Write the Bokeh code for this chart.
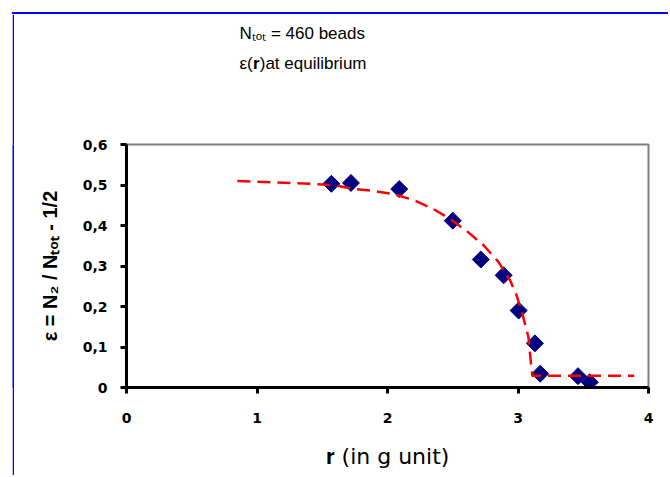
import math
from bokeh.plotting import figure
from bokeh.models import (Range1d, FixedTicker, CustomJSTickFormatter, ColumnDataSource,
                          Title, Plot, Spacer)
from bokeh.layouts import column, row
from bokeh.embed import file_html
from bokeh.resources import INLINE

# data
r_obs = [1.57, 1.72, 2.09, 2.50, 2.715, 2.89, 3.005, 3.13, 3.17, 3.46, 3.55]
eps_obs = [0.503, 0.505, 0.490, 0.412, 0.316, 0.277, 0.190, 0.109, 0.034, 0.028, 0.013]

r_fit = [0.85, 1.36, 1.60, 1.75, 1.90, 2.04, 2.20, 2.35, 2.49, 2.62, 2.74, 2.85, 2.94, 2.99, 3.04, 3.08, 3.10, 3.11, 3.89]
eps_fit = [0.510, 0.504, 0.499, 0.490, 0.485, 0.478, 0.463, 0.441, 0.414, 0.383, 0.350, 0.310, 0.264, 0.227, 0.174, 0.124, 0.058, 0.029, 0.029]

x_ticks = [0, 1, 2, 3, 4]
y_ticks = [0, 0.1, 0.2, 0.3, 0.4, 0.5, 0.6]

title_1 = "Nₜₒₜ = 460 beads"
title_2 = "ε(𝐫)at equilibrium"
x_label = "𝐫 (in g unit)"
y_label = "ε = N₂ / Nₜₒₜ - 1/2"

W, H = 652, 460
FL, FT, FR, FB = 112, 130, 18, 87

p = figure(width=W, height=H, output_backend="svg", toolbar_location=None, title=None,
           x_range=Range1d(0, 4), y_range=Range1d(0, 0.6),
           min_border_left=FL, min_border_top=FT, min_border_right=FR, min_border_bottom=FB)
p.background_fill_color = "white"
p.border_fill_color = "white"
p.xgrid.visible = False
p.ygrid.visible = False
p.outline_line_color = "#808080"
p.outline_line_width = 2

for ax in (p.xaxis[0], p.yaxis[0]):
    ax.axis_line_color = "black"
    ax.axis_line_width = 3
    ax.major_tick_line_color = "black"
    ax.major_tick_line_width = 3
    ax.major_tick_out = 6
    ax.major_tick_in = 0
    ax.minor_tick_line_color = None
    ax.major_label_text_font = "DejaVu Sans"
    ax.major_label_text_font_style = "bold"
    ax.major_label_text_font_size = "14px"
    ax.major_label_text_color = "black"
    ax.axis_label_text_color = "black"

p.xaxis.ticker = FixedTicker(ticks=x_ticks)
p.yaxis.ticker = FixedTicker(ticks=y_ticks)
p.xaxis.major_label_standoff = 19
p.yaxis.major_label_standoff = 13
p.yaxis.formatter = CustomJSTickFormatter(code="return tick == 0 ? '0' : tick.toFixed(1).replace('.', ',');")

p.yaxis.axis_label = y_label
p.yaxis.axis_label_text_font = "Liberation Sans"
p.yaxis.axis_label_text_font_style = "bold"
p.yaxis.axis_label_text_font_size = "20px"
p.yaxis.axis_label_standoff = 19

p.xaxis.axis_label = x_label
p.xaxis.axis_label_text_font = "DejaVu Sans"
p.xaxis.axis_label_text_font_style = "normal"
p.xaxis.axis_label_text_font_size = "22px"
p.xaxis.axis_label_standoff = 18

TF = "Liberation Sans"
TS = "17px"
gap = Title(text=" ", align="left", standoff=47, text_font=TF, text_font_size=TS, text_color="white")
t2 = Title(text=title_2, align="left", offset=113, standoff=8,
           text_font=TF, text_font_style="normal", text_font_size=TS, text_color="black")
t1 = Title(text=title_1, align="left", offset=113, standoff=10,
           text_font=TF, text_font_style="normal", text_font_size=TS, text_color="black")
p.add_layout(gap, "above")
p.add_layout(t2, "above")
p.add_layout(t1, "above")

src_fit = ColumnDataSource(dict(x=r_fit, y=eps_fit))
src_obs = ColumnDataSource(dict(x=r_obs, y=eps_obs))
p.scatter("x", "y", source=src_obs, marker="square", angle=math.pi / 4, size=12,
          fill_color="#000080", line_color="#000080")
p.line("x", "y", source=src_fit, line_color="#FF0000", line_width=2.5, line_dash="13 7")

left_strip = Plot(width=2, height=H + 1, min_border=0, toolbar_location=None, output_backend="svg",
                  x_range=Range1d(0, 1), y_range=Range1d(0, 1), title=None,
                  outline_line_color=None, background_fill_color="#0000FF", border_fill_color="#0000FF")
top_strip = Spacer(width=656, height=2, styles={"background-color": "#0000FF"})

layout = column(Spacer(width=1, height=12),
                row(Spacer(width=12, height=1),
                    column(top_strip, row(left_strip, p))))

open("out.html", "w").write(file_html(layout, INLINE))
